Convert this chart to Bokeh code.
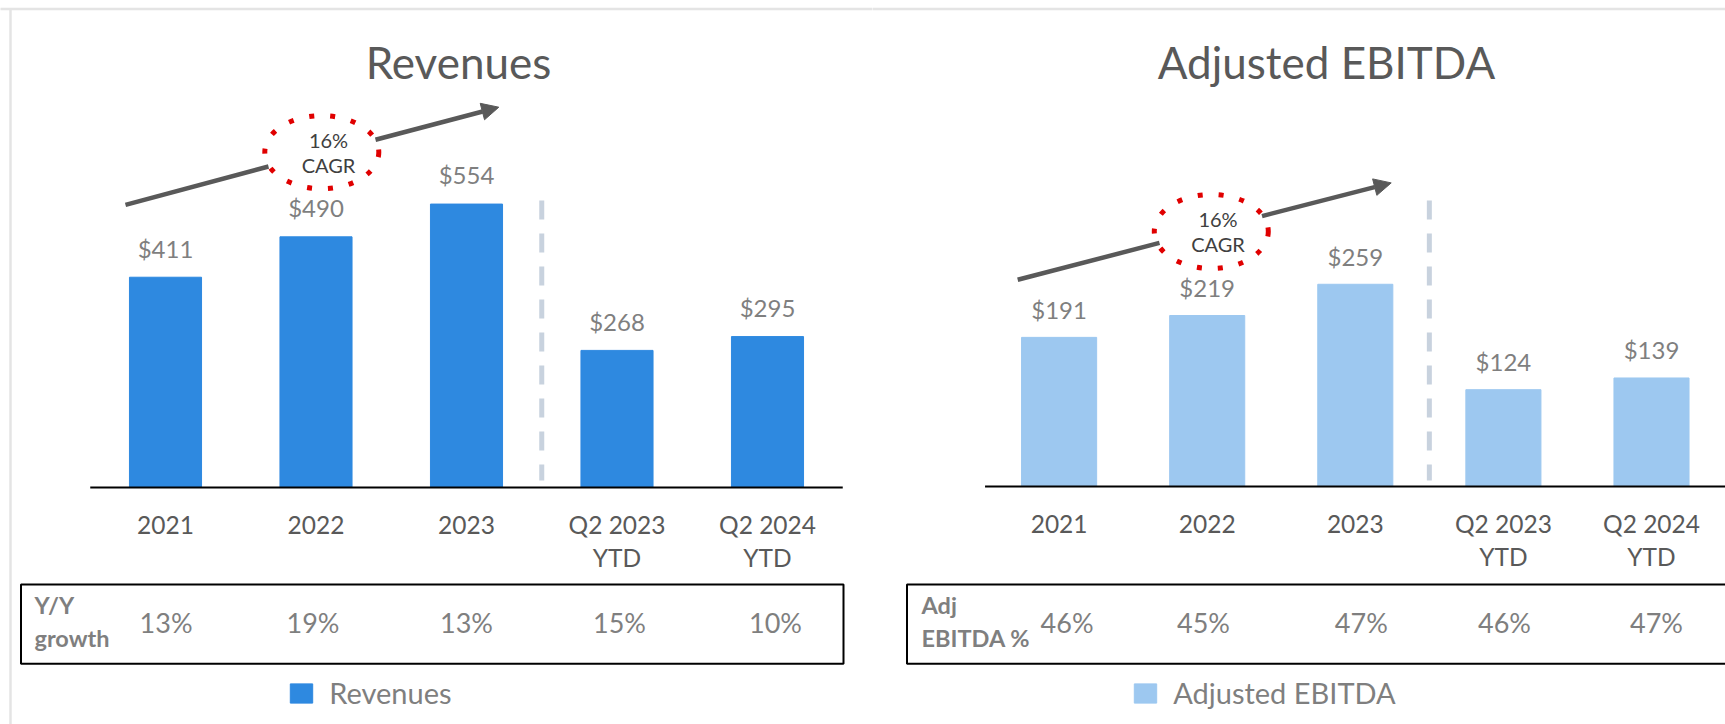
from bokeh.plotting import figure
from bokeh.layouts import row
from bokeh.models import Range1d, LinearAxis, FixedTicker, Arrow, NormalHead, Legend, LegendItem
from bokeh.core.properties import value
from bokeh.embed import file_html
from bokeh.resources import INLINE

# ---------------- data ----------------
categories = ["2021", "2022", "2023", "Q2 2023\nYTD", "Q2 2024\nYTD"]
n_annual = 3
revenues = [411, 490, 554, 268, 295]
adj_ebitda = [191, 219, 259, 124, 139]
yy_growth = ["13%", "19%", "13%", "15%", "10%"]
adj_margin = ["46%", "45%", "47%", "46%", "47%"]
titles = ["Revenues", "Adjusted EBITDA"]
row_labels = [["Y/Y", "growth"], ["Adj", "EBITDA %"]]
cagr_values = ["16%", "16%"]
cagr_word = "CAGR"

FONT = value("Lato")
H = 724
PAGE = 0
K = 0.38  # baseline correction (fraction of font size)
GREY_T = "#595959"
GREY_V = "#7f7f7f"

LAYOUTS = [
    dict(fx0=0, W=872, c0=165.0, sp=150.5, base=487.0, ppu=0.5116, bw=0.479, color="#2E89E0",
         title_x=458, title_y=78, ell=(321.3, 151.7, 114, 73), cagr_x=328, cagr_y=(146.7, 172),
         arr1=(125, 204.3, 268, 166), arr2=(375, 139.3, 498.3, 106.7),
         box=(20.5, 843, 584, 663.3), rl_x=34, rl_y=(613.5, 646.5), pct_y=632,
         pct_dx=[0.6, -3, 0, 2.5, 8],
         leg=(290, 14), div=(200, 480), val_off=20),
    dict(fx0=872, W=853, c0=1058.6, sp=148.1, base=486.0, ppu=0.7808, bw=0.507, color="#9DC8F0",
         title_x=1326, title_y=78, ell=(1210.8, 231, 114, 74), cagr_x=1217.5, cagr_y=(226, 251.5),
         arr1=(1017.2, 279.3, 1159, 242.4), arr2=(1261.5, 215.6, 1390.7, 182.4),
         box=(906.5, 1740, 584, 663.3), rl_x=921, rl_y=(613.5, 646.5), pct_y=632,
         pct_dx=[8, -3.7, 6, 1.1, 5],
         leg=(1134, 14), div=(200, 480), val_off=19),
]

GLYPH_W, GLYPH_H = 22, 19  # visible legend swatch size (Bokeh insets the swatch by 10%)


def panel(vals, pcts, title, rlabel, cagr_txt, L):
    c0, sp, base, ppu = L["c0"], L["sp"], L["base"], L["ppu"]
    fx0, W = L["fx0"], L["W"]
    X = lambda px: (px - c0) / sp
    Y = lambda py: (base - py) / ppu
    TB = lambda py, size: Y(py - K * size)  # data y for a text baseline at page py

    p = figure(width=W, height=H,
               x_range=Range1d(X(fx0), X(fx0 + W)),
               y_range=Range1d(Y(PAGE + H), Y(PAGE)),
               output_backend="svg", toolbar_location=None, min_border=0,
               x_axis_location=None, y_axis_location=None)
    p.outline_line_color = None
    p.xgrid.visible = False
    p.ygrid.visible = False

    idx = list(range(len(vals)))
    n = len(vals)

    # light frame border (top + left)
    p.segment(x0=[X(fx0 - 5)], y0=[Y(8.5)], x1=[X(fx0 + W + 5)], y1=[Y(8.5)],
              line_color="#e4e4e4", line_width=2.5)
    if fx0 == 0:
        p.segment(x0=[X(10)], y0=[Y(8)], x1=[X(10)], y1=[Y(740)],
                  line_color="#e4e4e4", line_width=2.5)

    # bars
    bars = p.vbar(x=idx, top=vals, width=L["bw"], color=L["color"])

    # value labels
    vs = 24
    p.text(x=idx, y=[v + (L["val_off"] + K * vs) / ppu for v in vals], text=["$" + str(v) for v in vals],
           text_align="center", text_baseline="alphabetic", text_font=FONT,
           text_font_size=f"{vs}px", text_color=GREY_V)

    # baseline
    p.segment(x0=[-0.5], y0=[0], x1=[n - 0.5], y1=[0], line_color="black", line_width=2)

    # divider between annual and YTD
    p.segment(x0=[n_annual - 0.5], y0=[Y(L["div"][0])], x1=[n_annual - 0.5], y1=[Y(L["div"][1])],
              line_color="#c8d2de", line_width=5, line_dash="19 14")

    # category axis at y = 0
    ax = LinearAxis(fixed_location=0, ticker=FixedTicker(ticks=idx),
                    major_label_overrides={i: c for i, c in zip(idx, categories)})
    ax.axis_line_color = None
    ax.major_tick_line_color = None
    ax.minor_tick_line_color = None
    ax.major_tick_out = 0
    ax.major_tick_in = 0
    ax.major_label_standoff = 22
    ax.major_label_text_font = "Lato"
    ax.major_label_text_font_size = "24.5px"
    ax.major_label_text_color = GREY_T
    ax.major_label_text_line_height = 1.16
    p.add_layout(ax, "below")

    # title
    ts = 44
    p.text(x=[X(L["title_x"])], y=[TB(L["title_y"], ts)], text=[title], text_align="center",
           text_baseline="alphabetic", text_font=FONT, text_font_size=f"{ts}px", text_color=GREY_T)

    # CAGR arrow + dotted ellipse
    ex, ey, ew, eh = L["ell"]
    p.ellipse(x=[X(ex)], y=[Y(ey)], width=ew / sp, height=eh / ppu, fill_color=None,
              line_color="#e00000", line_width=5, line_dash="5 16")
    a = L["arr1"]
    p.segment(x0=[X(a[0])], y0=[Y(a[1])], x1=[X(a[2])], y1=[Y(a[3])], line_color=GREY_T, line_width=4.5)
    b = L["arr2"]
    p.add_layout(Arrow(x_start=X(b[0]), y_start=Y(b[1]), x_end=X(b[2]), y_end=Y(b[3]),
                       line_color=GREY_T, line_width=4.5,
                       end=NormalHead(size=17, fill_color=GREY_T, line_color=GREY_T)))
    cs = 20
    p.text(x=[X(L["cagr_x"])] * 2, y=[TB(L["cagr_y"][0], cs), TB(L["cagr_y"][1], cs)],
           text=[cagr_txt, cagr_word], text_align="center", text_baseline="alphabetic",
           text_font=FONT, text_font_size=f"{cs}px", text_color="#404040")

    # table
    bl, br, bt, bb = L["box"]
    p.quad(left=[X(bl)], right=[X(br)], top=[Y(bt)], bottom=[Y(bb)], fill_color=None,
           line_color="black", line_width=2)
    rs = 23.5
    p.text(x=[X(L["rl_x"])] * 2, y=[TB(L["rl_y"][0], rs), TB(L["rl_y"][1], rs)], text=rlabel,
           text_align="left", text_baseline="alphabetic", text_font=FONT, text_font_style="bold",
           text_font_size=f"{rs}px", text_color=GREY_V)
    ps = 27
    p.text(x=[i + d / sp for i, d in zip(idx, L["pct_dx"])], y=[TB(L["pct_y"], ps)] * n, text=pcts,
           text_align="center", text_baseline="alphabetic", text_font=FONT,
           text_font_size=f"{ps}px", text_color=GREY_V)

    # legend
    lx, ly = L["leg"]
    gw, gh = GLYPH_W / 0.8, GLYPH_H / 0.8
    inset = (gw - GLYPH_W) / 2
    leg = Legend(items=[LegendItem(label=title, renderers=[bars])], location=(lx - inset - fx0, ly),
                 orientation="horizontal", padding=0, margin=0, border_line_color=None,
                 background_fill_alpha=0, glyph_width=round(gw), glyph_height=round(gh), label_height=20,
                 label_standoff=round(17 - inset), label_text_font="Lato", label_text_font_size="29px",
                 label_text_color=GREY_V)
    p.add_layout(leg)
    return p


p1 = panel(revenues, yy_growth, titles[0], row_labels[0], cagr_values[0], LAYOUTS[0])
p2 = panel(adj_ebitda, adj_margin, titles[1], row_labels[1], cagr_values[1], LAYOUTS[1])
p = row(p1, p2)

open("out.html", "w").write(file_html(p, INLINE))
